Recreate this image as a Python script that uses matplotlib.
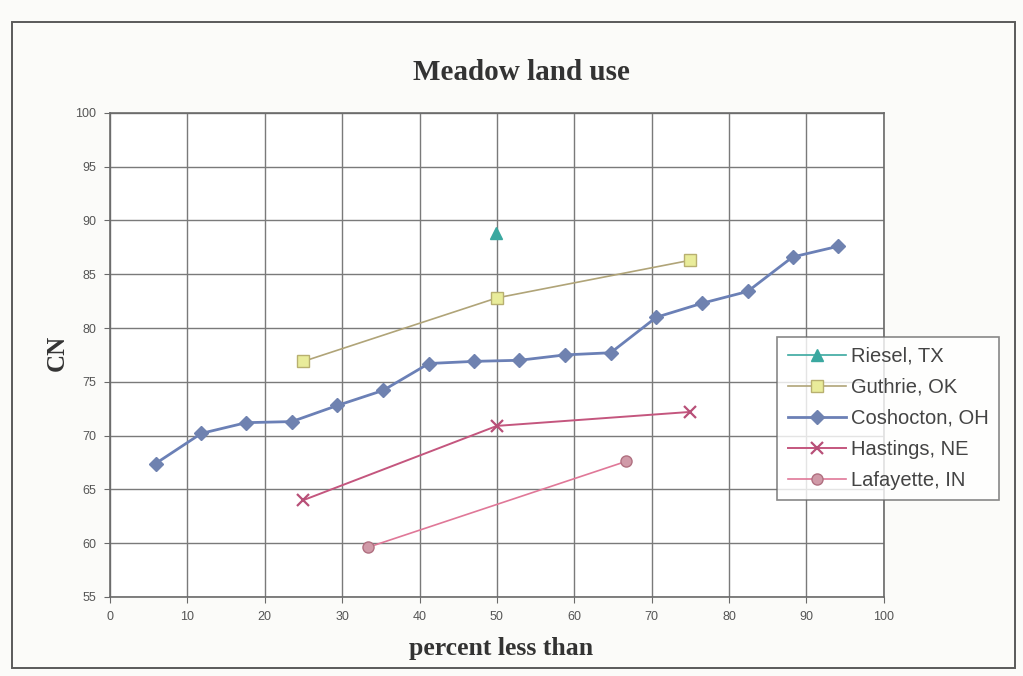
import matplotlib
matplotlib.use("Agg")
import matplotlib.pyplot as plt
from matplotlib.patches import Rectangle

# Curve-number observations, plotted against percent-less-than position
riesel_x = [49.9]
riesel_y = [88.8]

guthrie_x = [25.0, 50.0, 75.0]
guthrie_y = [76.9, 82.8, 86.3]

coshocton_x = [5.9, 11.8, 17.6, 23.5, 29.4, 35.3, 41.2, 47.1,
               52.9, 58.8, 64.7, 70.6, 76.5, 82.4, 88.2, 94.1]
coshocton_y = [67.4, 70.2, 71.2, 71.3, 72.8, 74.2, 76.7, 76.9,
               77.0, 77.5, 77.7, 81.0, 82.3, 83.4, 86.6, 87.6]

hastings_x = [25.0, 50.0, 75.0]
hastings_y = [64.0, 70.9, 72.2]

lafayette_x = [33.3, 66.7]
lafayette_y = [59.6, 67.6]

x_ticks = list(range(0, 101, 10))
y_ticks = list(range(55, 101, 5))

fig = plt.figure(figsize=(10.23, 6.76), dpi=100)
fig.patch.set_facecolor("#fbfbf9")

# outer chart frame
fig.add_artist(Rectangle((0.012, 0.012), 0.980, 0.955, transform=fig.transFigure,
                         fill=False, edgecolor="#5a5a5a", linewidth=1.4))

ax = fig.add_axes([0.1075, 0.117, 0.7565, 0.716])
ax.set_facecolor("white")

ax.plot(riesel_x, riesel_y, color="#3aa8a0", marker="^", markersize=8,
        markerfacecolor="#3aa8a0", markeredgecolor="#3aa8a0", linewidth=1.2,
        label="Riesel, TX", zorder=3)
ax.plot(guthrie_x, guthrie_y, color="#b0a478", marker="s", markersize=8,
        markerfacecolor="#e9ec9a", markeredgecolor="#b8b070", linewidth=1.2,
        label="Guthrie, OK", zorder=3)
ax.plot(coshocton_x, coshocton_y, color="#6b80b6", marker="D", markersize=7,
        markerfacecolor="#6f82b0", markeredgecolor="#6f82b0", linewidth=2.0,
        label="Coshocton, OH", zorder=4)
ax.plot(hastings_x, hastings_y, color="#c4567e", marker="x", markersize=9,
        markeredgewidth=1.6, markeredgecolor="#b85078", linewidth=1.4,
        label="Hastings, NE", zorder=3)
ax.plot(lafayette_x, lafayette_y, color="#e07898", marker="o", markersize=8,
        markerfacecolor="#d09aa8", markeredgecolor="#b07080", linewidth=1.2,
        label="Lafayette, IN", zorder=3)

ax.set_xlim(0, 100)
ax.set_ylim(55, 100)
ax.set_xticks(x_ticks)
ax.set_yticks(y_ticks)
ax.grid(True, color="#7a7a7a", linewidth=1.0)
ax.set_axisbelow(True)
for s in ax.spines.values():
    s.set_color("#6a6a6a")
    s.set_linewidth(1.2)
ax.tick_params(axis="both", length=4, color="#6a6a6a", labelcolor="#555555",
               labelsize=9, pad=6)
for lbl in ax.get_xticklabels() + ax.get_yticklabels():
    lbl.set_fontfamily("Liberation Sans")

fig.text(0.510, 0.893, "Meadow land use", ha="center", va="center",
         fontsize=21, fontweight="bold", family="Liberation Serif", color="#333333")
fig.text(0.490, 0.041, "percent less than", ha="center", va="center",
         fontsize=18.5, fontweight="bold", family="Liberation Serif", color="#333333")
fig.text(0.056, 0.478, "CN", ha="center", va="center", rotation=90,
         fontsize=18, fontweight="bold", family="Liberation Serif", color="#333333")

handles, labels = ax.get_legend_handles_labels()
leg = fig.legend(handles, labels, loc="upper left", bbox_to_anchor=(0.760, 0.502),
                 frameon=True, fancybox=False, handlelength=2.9,
                 handletextpad=0.25, labelspacing=0.6, borderpad=0.5,
                 borderaxespad=0.0,
                 prop={"family": "Liberation Sans", "size": 14.5})
leg.get_frame().set_edgecolor("#6a6a6a")
leg.get_frame().set_linewidth(1.2)
for t in leg.get_texts():
    t.set_color("#444444")

fig.savefig("out.png", dpi=100, facecolor=fig.get_facecolor())
